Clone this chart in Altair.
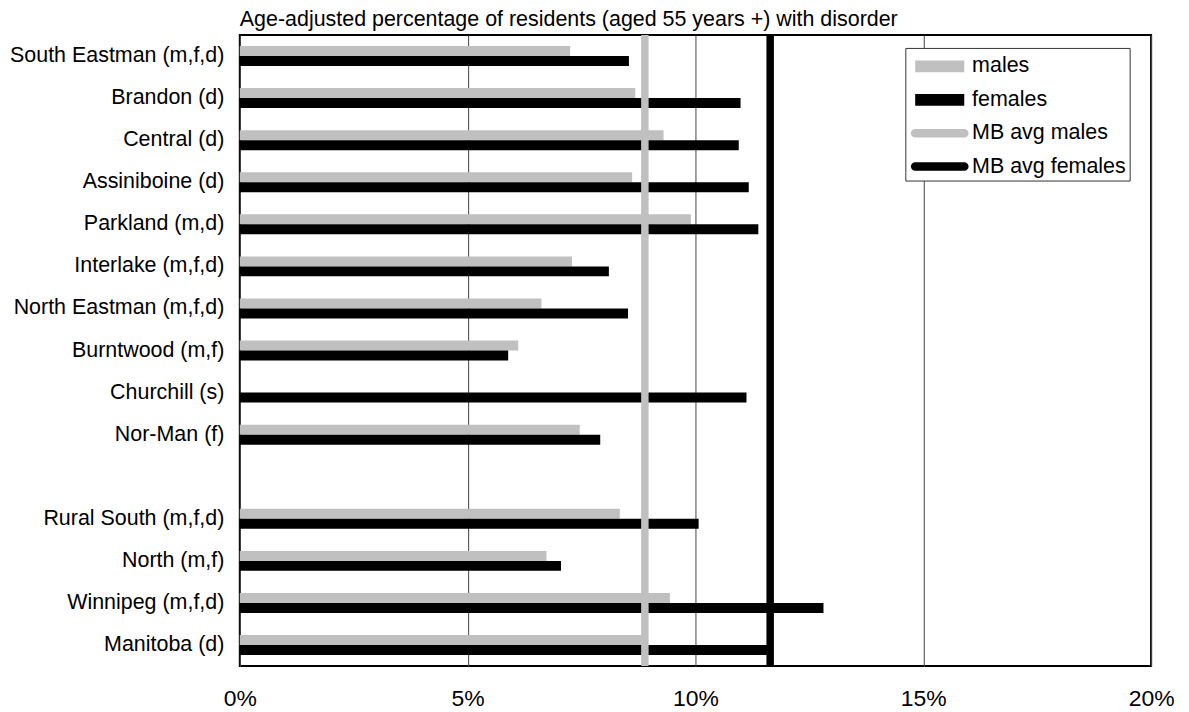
import altair as alt
import pandas as pd

regions = ["South Eastman (m,f,d)", "Brandon (d)", "Central (d)", "Assiniboine (d)",
           "Parkland (m,d)", "Interlake (m,f,d)", "North Eastman (m,f,d)", "Burntwood (m,f)",
           "Churchill (s)", "Nor-Man (f)", " ", "Rural South (m,f,d)", "North (m,f)",
           "Winnipeg (m,f,d)", "Manitoba (d)"]
males = [7.25, 8.68, 9.30, 8.61, 9.90, 7.29, 6.62, 6.11, None, 7.46, None, 8.34, 6.73, 9.44, 8.89]
females = [8.54, 10.99, 10.95, 11.17, 11.38, 8.10, 8.52, 5.89, 11.12, 7.91, None, 10.07, 7.05, 12.81, 11.64]
avg_names = ["MB avg males", "MB avg females"]
avg_values = [8.89, 11.64]
series_names = ["males", "females", "MB avg males", "MB avg females"]
series_colors = ["#c0c0c0", "#000000", "#c0c0c0", "#000000"]
tick_values = [0, 5, 10, 15, 20]

rows = []
for r, m, f in zip(regions, males, females):
    if m is not None:
        rows.append({"region": r, "sex": "males", "value": m})
    if f is not None:
        rows.append({"region": r, "sex": "females", "value": f})
df = pd.DataFrame(rows)
avg_df = pd.DataFrame({"series": avg_names, "value": avg_values})
legend_df = pd.DataFrame({"series": series_names})

rect_path = "M-1.588,-0.38H1.588V0.38H-1.588Z"
cap_path = ("M-1.588,-0.276H1.588A0.276,0.276 0 0 1 1.588,0.276"
            "H-1.588A0.276,0.276 0 0 1 -1.588,-0.276Z")
series_shapes = [rect_path, rect_path, cap_path, cap_path]

y_enc = alt.Y("region:N", sort=regions,
              scale=alt.Scale(domain=regions, paddingInner=0.526, paddingOuter=0.263),
              axis=alt.Axis(title=None, ticks=False, domain=False, grid=False,
                            labelFontSize=21.5, labelPadding=16, labelColor="black",
                            labelLimit=400))
x_enc = alt.X("value:Q",
              scale=alt.Scale(domain=[0, 20], nice=False, zero=True),
              axis=alt.Axis(values=tick_values, labelExpr="datum.value + '%'", title=None,
                            ticks=False, domain=False, grid=True, gridColor="#444",
                            gridWidth=1, labelFontSize=23, labelPadding=22,
                            labelColor="black", labelFlush=False))
yoff = alt.YOffset("sex:N", scale=alt.Scale(domain=["males", "females"],
                                            paddingInner=0, paddingOuter=0))

male_bars = alt.Chart(df).transform_filter("datum.sex == 'males'").mark_bar(
    color="#c0c0c0").encode(x=x_enc, y=y_enc, yOffset=yoff)
female_bars = alt.Chart(df).transform_filter("datum.sex == 'females'").mark_bar(
    color="#000000").encode(x=x_enc, y=y_enc, yOffset=yoff)

rule_m = alt.Chart(avg_df).transform_filter("datum.series == 'MB avg males'").mark_rule(
    color="#c0c0c0", strokeWidth=7.5).encode(x="value:Q")
rule_f = alt.Chart(avg_df).transform_filter("datum.series == 'MB avg females'").mark_rule(
    color="#000000", strokeWidth=7.5).encode(x="value:Q")

leg = alt.Legend(title=None, orient="none", legendX=667.5, legendY=13,
                 direction="vertical", symbolSize=961, symbolStrokeWidth=0,
                 symbolOffset=16, labelOffset=17, labelFontSize=21.5,
                 labelColor="black", padding=3, rowPadding=7.5,
                 strokeColor="#333", fillColor="white", labelLimit=300,
                 symbolOpacity=1)

pts = alt.Chart(legend_df).mark_point(filled=True, opacity=0).encode(
    color=alt.Color("series:N", sort=series_names,
                    scale=alt.Scale(domain=series_names, range=series_colors), legend=leg),
    shape=alt.Shape("series:N", sort=series_names,
                    scale=alt.Scale(domain=series_names, range=series_shapes), legend=leg),
)

chart = alt.layer(male_bars, female_bars, rule_m, rule_f, pts).properties(
    width=914, height=633,
    title=alt.TitleParams(
        text="Age-adjusted percentage of residents (aged 55 years +) with disorder",
        anchor="start", frame="group", fontSize=21.5, fontWeight="normal",
        color="black", offset=1),
    autosize=alt.AutoSizeParams(type="none"),
    padding={"left": 232.5, "top": 26, "right": 30, "bottom": 44},
).configure(font="Liberation Sans").configure_view(stroke="black", strokeWidth=2)

chart.save("out.html", embed_options={"renderer": "svg", "actions": False})
